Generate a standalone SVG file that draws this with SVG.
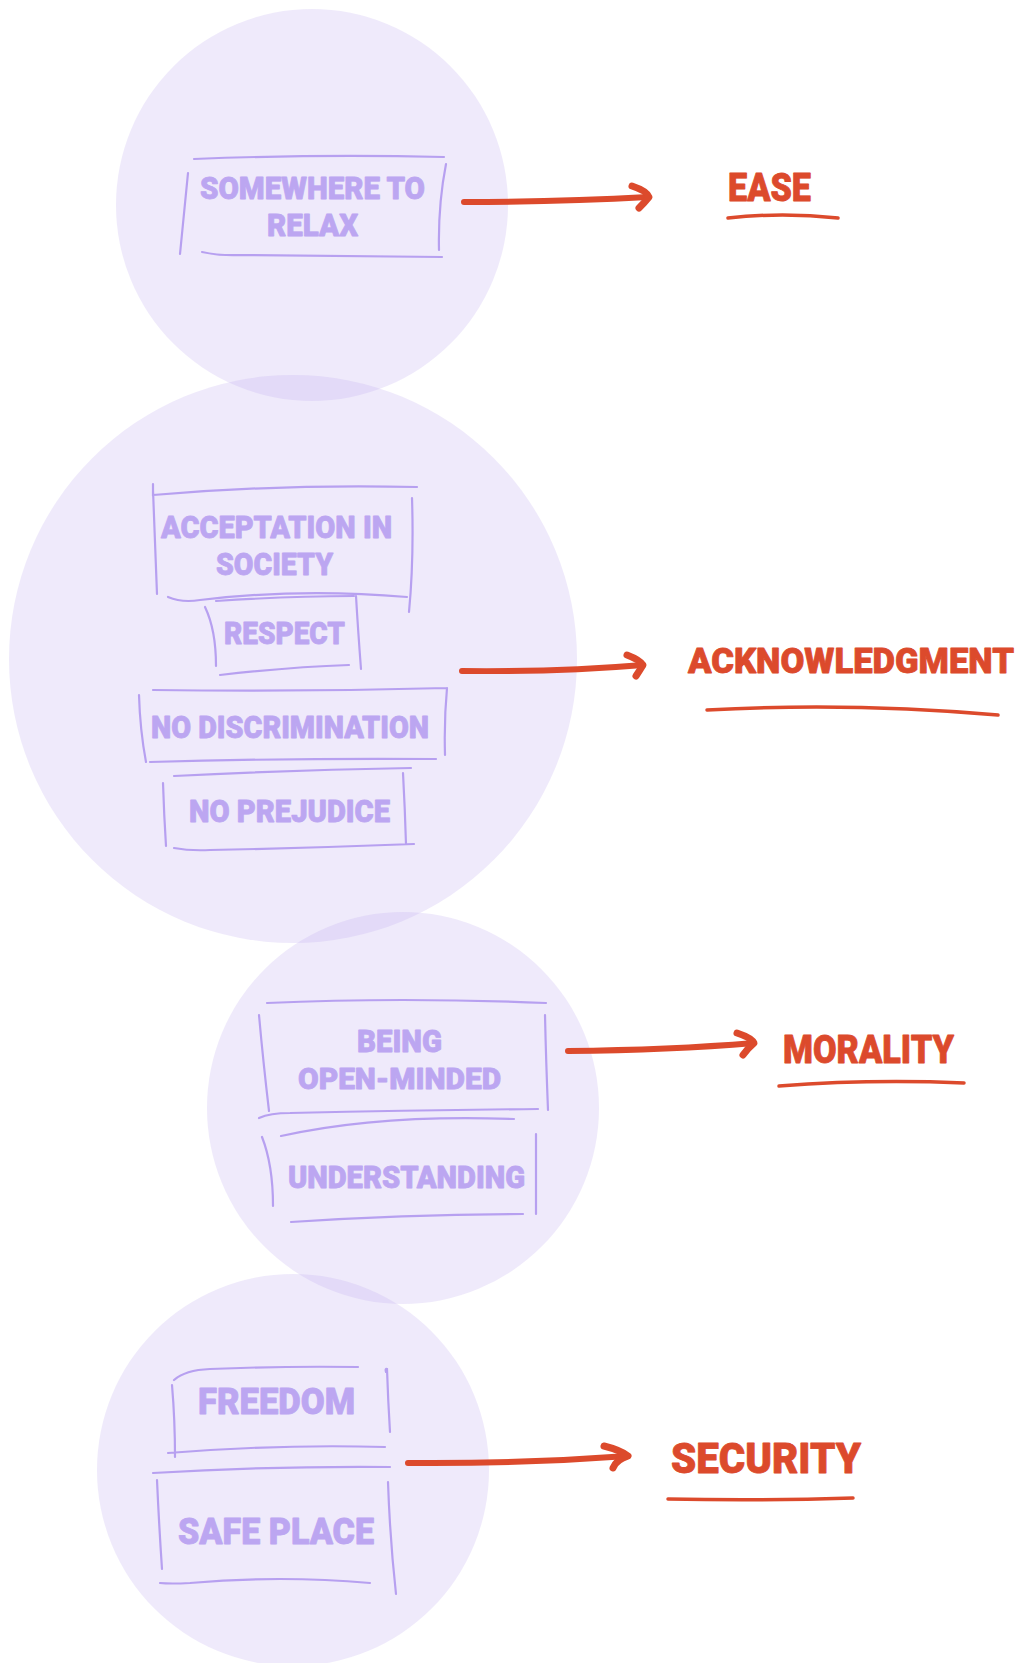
<svg xmlns="http://www.w3.org/2000/svg" width="1019" height="1663" viewBox="0 0 1019 1663">
<defs>
<style>
.bg{fill:#BFABEF;fill-opacity:0.25}
.box{fill:none;stroke:#B7A0F0;stroke-width:2.2;stroke-linecap:round}
.t{font-family:Roboto,"Liberation Sans",sans-serif;font-weight:900;fill:#BCA6F1;stroke:#BCA6F1;stroke-width:0.8;stroke-linejoin:round}
.lbl{font-family:Roboto,"Liberation Sans",sans-serif;font-weight:900;fill:#DC4A2C;stroke:#DC4A2C;stroke-width:0.8;stroke-linejoin:round}
.arr{fill:none;stroke:#DC4A2C;stroke-width:6;stroke-linecap:round;stroke-linejoin:round}
.head{fill:none;stroke:#DC4A2C;stroke-width:7;stroke-linecap:round;stroke-linejoin:round}
.ul{fill:none;stroke:#DC4A2C;stroke-width:3.5;stroke-linecap:round}
</style>
</defs>
<rect width="1019" height="1663" fill="#ffffff"/>
<g id="circles">
<circle class="bg" cx="312" cy="205" r="196"/>
<circle class="bg" cx="293" cy="659" r="284"/>
<circle class="bg" cx="403" cy="1108" r="196"/>
<circle class="bg" cx="293" cy="1470" r="196"/>
</g>
<g id="node-relax">
<path class="box" d="M194,159 Q320,154 444,157 M188,173 Q184,214 180,254 M446,164 Q438,205 439,250 M202,252 Q220,256 241,255 Q340,256 442,257"/>
<text class="t" x="200" y="199" font-size="31" textLength="225" lengthAdjust="spacingAndGlyphs">SOMEWHERE TO</text>
<text class="t" x="267" y="236" font-size="32" textLength="91" lengthAdjust="spacingAndGlyphs">RELAX</text>
</g>
<g id="node-acceptation">
<path class="box" d="M153,484 L153,495 Q280,484 417,487 M153,490 Q155,540 157,594 M412,498 Q414,560 409,612 M168,597 Q182,603 200,600 Q300,588 407,597"/>
<text class="t" x="161" y="538" font-size="32" textLength="231" lengthAdjust="spacingAndGlyphs">ACCEPTATION IN</text>
<text class="t" x="216" y="575" font-size="32" textLength="117" lengthAdjust="spacingAndGlyphs">SOCIETY</text>
</g>
<g id="node-respect">
<path class="box" d="M216,601 Q290,596 354,596 M205,607 Q216,630 216,666 M356,596 Q358,630 361,669 M220,675 Q290,667 349,665"/>
<text class="t" x="224" y="644" font-size="32" textLength="121" lengthAdjust="spacingAndGlyphs">RESPECT</text>
</g>
<g id="node-discrimination">
<path class="box" d="M153,690 Q300,692 447,688 M139,695 Q140,730 146,762 M447,688 Q444,720 445,755 M150,762 Q290,758 436,759"/>
<text class="t" x="151" y="738" font-size="31" textLength="278" lengthAdjust="spacingAndGlyphs">NO DISCRIMINATION</text>
</g>
<g id="node-prejudice">
<path class="box" d="M174,776 Q290,770 411,768 M163,783 Q164,815 166,846 M403,773 Q405,810 406,844 M174,848 Q190,851 210,850 Q310,848 414,844"/>
<text class="t" x="189" y="822" font-size="31" textLength="201" lengthAdjust="spacingAndGlyphs">NO PREJUDICE</text>
</g>
<g id="node-openminded">
<path class="box" d="M267,1003 Q400,997 546,1003 M259,1015 Q263,1060 269,1111 M545,1015 Q546,1060 548,1110 M259,1118 Q270,1113 290,1113 Q420,1110 538,1109"/>
<text class="t" x="357" y="1052" font-size="31" textLength="85" lengthAdjust="spacingAndGlyphs">BEING</text>
<text class="t" x="298" y="1089" font-size="30" textLength="203" lengthAdjust="spacingAndGlyphs">OPEN-MINDED</text>
</g>
<g id="node-understanding">
<path class="box" d="M281,1136 Q380,1114 514,1119 M262,1137 Q273,1165 273,1206 M536,1134 L536,1214 M291,1222 Q410,1214 523,1214"/>
<text class="t" x="288" y="1188" font-size="31" textLength="237" lengthAdjust="spacingAndGlyphs">UNDERSTANDING</text>
</g>
<g id="node-freedom">
<path class="box" d="M174,1380 Q185,1370 210,1369 Q280,1366 358,1367 M172,1385 Q175,1420 175,1457 M386,1372 Q385,1368 387,1369 Q388,1400 390,1432 M168,1453 Q280,1444 385,1447"/>
<text class="t" x="198" y="1414" font-size="37" textLength="157" lengthAdjust="spacingAndGlyphs">FREEDOM</text>
</g>
<g id="node-safeplace">
<path class="box" d="M153,1473 Q270,1466 390,1467 M157,1480 Q159,1525 162,1569 M388,1482 Q390,1540 396,1594 M160,1583 Q170,1584 190,1583 Q280,1575 370,1583"/>
<text class="t" x="178" y="1544" font-size="37" textLength="196" lengthAdjust="spacingAndGlyphs">SAFE PLACE</text>
</g>
<g id="label-ease">
<text class="lbl" x="728" y="201" font-size="38" textLength="83" lengthAdjust="spacingAndGlyphs">EASE</text>
<path class="ul" d="M728,218 Q782,212 838,218"/>
</g>
<g id="label-acknowledgment">
<text class="lbl" x="688" y="673" font-size="35" textLength="326" lengthAdjust="spacingAndGlyphs">ACKNOWLEDGMENT</text>
<path class="ul" d="M707,710 Q850,702 998,715" stroke-width="4"/>
</g>
<g id="label-morality">
<text class="lbl" x="783" y="1063" font-size="38" textLength="171" lengthAdjust="spacingAndGlyphs">MORALITY</text>
<path class="ul" d="M779,1086 Q870,1079 964,1083" stroke-width="4"/>
</g>
<g id="label-security">
<text class="lbl" x="671" y="1473" font-size="43" textLength="190" lengthAdjust="spacingAndGlyphs">SECURITY</text>
<path class="ul" d="M668,1499 Q760,1501 853,1498" stroke-width="3"/>
</g>
<g id="connectors">
<path class="arr" d="M464,202 Q560,202 648,197"/>
<path class="head" d="M632,186 Q647,191 649,197 Q645,202 639,208"/>
<path class="arr" d="M462,671 Q560,672 643,665"/>
<path class="head" d="M627,655 Q640,660 643,665 Q640,670 636,676"/>
<path class="arr" d="M568,1051 Q670,1050 754,1043"/>
<path class="head" d="M737,1033 Q752,1038 754,1043 Q748,1048 743,1055"/>
<path class="arr" d="M408,1463 Q520,1464 628,1456" stroke-width="4.5"/>
<path class="head" d="M604,1446 Q620,1450 628,1456 Q616,1460 613,1468" stroke-width="6"/>
</g>
</svg>
